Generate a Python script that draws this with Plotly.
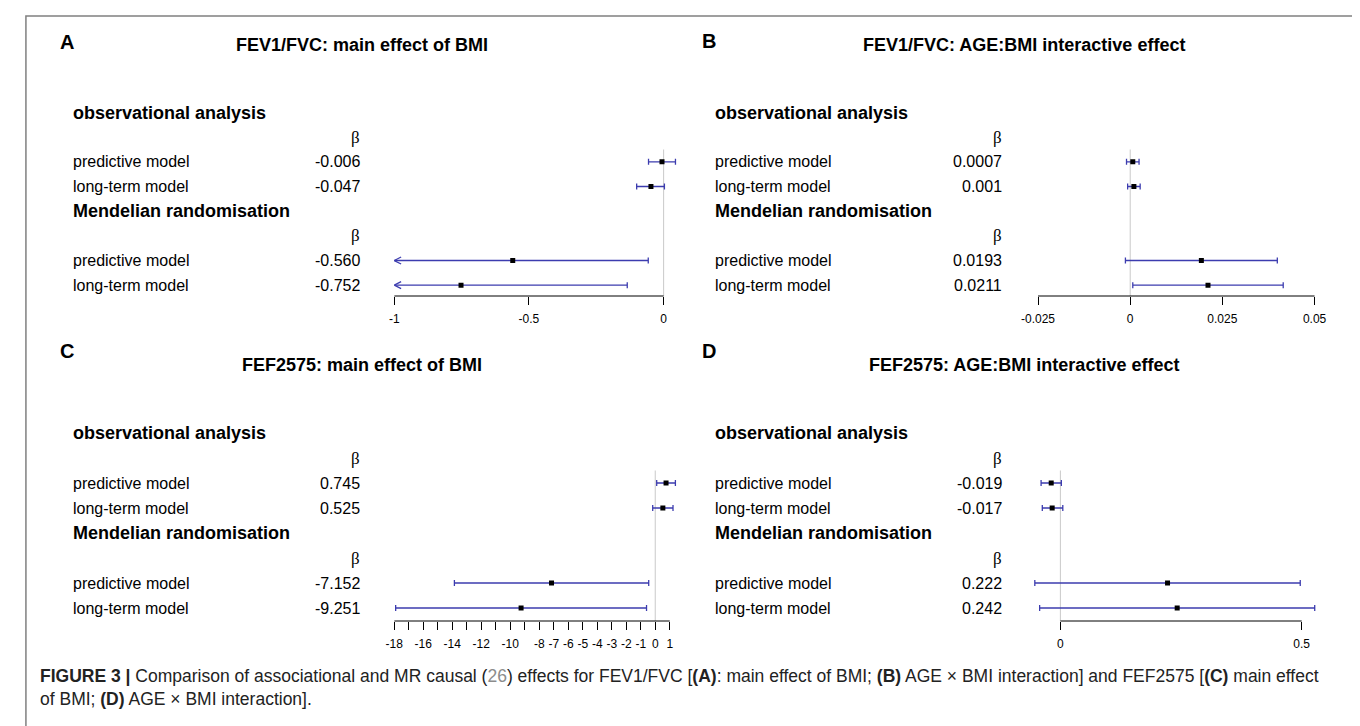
import plotly.graph_objects as go

W, H = 1360, 726

# ---------------- data ----------------
row_labels = ["predictive model", "long-term model"]
section_titles = ["observational analysis", "Mendelian randomisation"]
panel_letters = ["A", "B", "C", "D"]
panel_titles = [
    "FEV1/FVC: main effect of BMI",
    "FEV1/FVC: AGE:BMI interactive effect",
    "FEF2575: main effect of BMI",
    "FEF2575: AGE:BMI interactive effect",
]

# order: obs predictive, obs long-term, MR predictive, MR long-term
A_beta = [-0.006, -0.047, -0.560, -0.752]
A_lo = [-0.056, -0.100, -1.063, -1.369]
A_hi = [0.044, 0.003, -0.057, -0.135]
A_text = ["-0.006", "-0.047", "-0.560", "-0.752"]
A_ticks = [-1, -0.5, 0]
A_ticktext = ["-1", "-0.5", "0"]

B_beta = [0.0007, 0.001, 0.0193, 0.0211]
B_lo = [-0.0010, -0.0007, -0.0013, 0.0007]
B_hi = [0.0024, 0.0027, 0.0399, 0.0415]
B_text = ["0.0007", "0.001", "0.0193", "0.0211"]
B_ticks = [-0.025, 0, 0.025, 0.05]
B_ticktext = ["-0.025", "0", "0.025", "0.05"]

C_beta = [0.745, 0.525, -7.152, -9.251]
C_lo = [0.10, -0.175, -13.85, -17.90]
C_hi = [1.39, 1.225, -0.45, -0.60]
C_text = ["0.745", "0.525", "-7.152", "-9.251"]
C_ticks = [-18, -17, -16, -15, -14, -13, -12, -11, -10, -9, -8, -7, -6, -5, -4, -3, -2, -1, 0, 1]
C_ticktext = ["-18", "", "-16", "", "-14", "", "-12", "", "-10", "", "-8", "-7", "-6", "-5",
              "-4", "-3", "-2", "-1", "0", "1"]

D_beta = [-0.019, -0.017, 0.222, 0.242]
D_lo = [-0.040, -0.0375, -0.053, -0.043]
D_hi = [0.002, 0.005, 0.497, 0.527]
D_text = ["-0.019", "-0.017", "0.222", "0.242"]
D_ticks = [0, 0.5]
D_ticktext = ["0", "0.5"]

data = [
    (A_beta, A_lo, A_hi, A_text, A_ticks, A_ticktext),
    (B_beta, B_lo, B_hi, B_text, B_ticks, B_ticktext),
    (C_beta, C_lo, C_hi, C_text, C_ticks, C_ticktext),
    (D_beta, D_lo, D_hi, D_text, D_ticks, D_ticktext),
]

# ---------------- layout geometry (pixels) ----------------
geom = [
    dict(lab_x=53, beta_x=347, dom=(379.4, 668), cal=((-1, 379.4), (0, 651.8)),
         row0=104.5, step=24.67, bottom=288, title=(347, 37), letter=(39, 34)),
    dict(lab_x=702, beta_x=996, dom=(1024, 1318), cal=((-0.025, 1030.4), (0.05, 1310)),
         row0=104.5, step=24.67, bottom=288, title=(1016, 37), letter=(689, 33)),
    dict(lab_x=53, beta_x=347, dom=(379.4, 668), cal=((-18, 379.4), (1, 658)),
         row0=425, step=25, bottom=613, title=(347, 357), letter=(39, 343)),
    dict(lab_x=702, beta_x=996, dom=(1018, 1322), cal=((0, 1053), (0.5, 1297)),
         row0=425, step=25, bottom=613, title=(1016, 357), letter=(689, 343)),
]

CI_COLOR = "#3c3caf"
SANS = "Liberation Sans, Arial, sans-serif"
SERIF = "Liberation Serif, DejaVu Serif, serif"

data_rows = [2, 3, 6, 7]
header_rows = [0, 4]
beta_rows = [1, 5]

fig = go.Figure()
layout = dict(width=W, height=H, margin=dict(l=0, r=0, t=0, b=0),
              paper_bgcolor="white", plot_bgcolor="white", showlegend=False)
annotations = []
shapes = []


def px2val(px, cal):
    (v1, p1), (v2, p2) = cal
    return v1 + (px - p1) * (v2 - v1) / (p2 - p1)


for i, ((beta, lo, hi, txt, ticks, ticktext), g) in enumerate(zip(data, geom)):
    n = "" if i == 0 else str(i + 1)
    xa, ya = "x" + n, "y" + n
    xmin = px2val(g["dom"][0], g["cal"])
    xmax = px2val(g["dom"][1], g["cal"])
    top_px = g["row0"] - 0.7 * g["step"]
    ybot = (g["bottom"] - g["row0"]) / g["step"]
    ytop = (top_px - g["row0"]) / g["step"]

    layout["xaxis" + n] = dict(
        domain=[g["dom"][0] / W, g["dom"][1] / W], range=[xmin, xmax], anchor=ya,
        showgrid=False, zeroline=False, showline=False,
        tickmode="array", tickvals=ticks, ticktext=ticktext, tickangle=0,
        ticks="outside", ticklen=8, tickwidth=1, tickcolor="black", ticklabelstandoff=4,
        tickfont=dict(family=SANS, size=12, color="black"), fixedrange=True)
    layout["yaxis" + n] = dict(
        domain=[1 - g["bottom"] / H, 1 - top_px / H], range=[ybot, ytop], anchor=xa,
        visible=False, fixedrange=True)

    # zero reference line
    shapes.append(dict(type="line", xref=xa, yref=ya, x0=0, x1=0, y0=1.5, y1=ybot,
                       line=dict(color="#c9c9c9", width=1), layer="below"))
    # axis line only between the outer ticks
    shapes.append(dict(type="line", xref=xa, yref=ya + " domain", x0=ticks[0], x1=ticks[-1],
                       y0=0, y1=0, line=dict(color="black", width=1)))

    # confidence intervals and point estimates
    fig.add_trace(go.Scatter(
        x=beta, y=data_rows, mode="markers", xaxis=xa, yaxis=ya,
        marker=dict(symbol="square", size=5, color="black"),
        error_x=dict(type="data", symmetric=False,
                     array=[h - b for h, b in zip(hi, beta)],
                     arrayminus=[b - l for b, l in zip(beta, lo)],
                     color=CI_COLOR, thickness=1.3, width=3),
        hoverinfo="skip"))

    # arrows where the CI runs past the axis
    px_per_unit = (g["cal"][1][1] - g["cal"][0][1]) / (g["cal"][1][0] - g["cal"][0][0])
    dx = 7 / px_per_unit
    dy = 3.5 / g["step"]
    for r, l in zip(data_rows, lo):
        if l < xmin:
            fig.add_trace(go.Scatter(
                x=[xmin + dx, xmin, xmin + dx], y=[r - dy, r, r + dy], mode="lines",
                xaxis=xa, yaxis=ya, line=dict(color=CI_COLOR, width=1.3),
                hoverinfo="skip", cliponaxis=False))

    # text columns
    for k, s in zip(header_rows, section_titles):
        annotations.append(dict(text="<b>" + s + "</b>", x=g["lab_x"] / W, xref="paper",
                                y=k, yref=ya, xanchor="left", yanchor="middle", showarrow=False,
                                font=dict(family=SANS, size=18, color="black")))
    for k in beta_rows:
        annotations.append(dict(text="β", x=g["beta_x"] / W, xref="paper",
                                y=k, yref=ya, xanchor="right", yanchor="middle", showarrow=False,
                                font=dict(family=SERIF, size=17, color="black")))
    for j, k in enumerate(data_rows):
        annotations.append(dict(text=row_labels[j % 2], x=g["lab_x"] / W, xref="paper",
                                y=k, yref=ya, xanchor="left", yanchor="middle", showarrow=False,
                                font=dict(family=SANS, size=16, color="black")))
        annotations.append(dict(text=txt[j], x=g["beta_x"] / W, xref="paper",
                                y=k, yref=ya, xanchor="right", yanchor="middle", showarrow=False,
                                font=dict(family=SANS, size=16, color="black")))

    # panel title and letter
    annotations.append(dict(text="<b>" + panel_titles[i] + "</b>", x=g["title"][0] / W,
                            y=1 - g["title"][1] / H, xref="paper", yref="paper",
                            xanchor="center", yanchor="middle", showarrow=False,
                            font=dict(family=SANS, size=18, color="black")))
    annotations.append(dict(text="<b>" + panel_letters[i] + "</b>", x=g["letter"][0] / W,
                            y=1 - g["letter"][1] / H, xref="paper", yref="paper",
                            xanchor="left", yanchor="middle", showarrow=False,
                            font=dict(family=SANS, size=20, color="black")))

# caption
caption = ("<b>FIGURE 3 |</b> Comparison of associational and MR causal "
           "(<span style='color:#8c8c8c'>26</span>) effects for FEV1/FVC [<b>(A)</b>: main effect of BMI; "
           "<b>(B)</b> AGE × BMI interaction] and FEF2575 [<b>(C)</b> main effect<br>"
           "of BMI; <b>(D)</b> AGE × BMI interaction].")
annotations.append(dict(text=caption, x=19 / W, y=1 - 656 / H, xref="paper", yref="paper",
                        xanchor="left", yanchor="top", align="left", showarrow=False,
                        font=dict(family=SANS, size=17.5, color="#222222")))

# outer frame
shapes.append(dict(type="rect", xref="paper", yref="paper", x0=7 / W, x1=1356 / W,
                   y0=-0.05, y1=1 - 8 / H, line=dict(color="#808080", width=1.5),
                   fillcolor="rgba(0,0,0,0)"))

layout["annotations"] = annotations
layout["shapes"] = shapes
fig.update_layout(**layout)
fig.write_html("out.html")
